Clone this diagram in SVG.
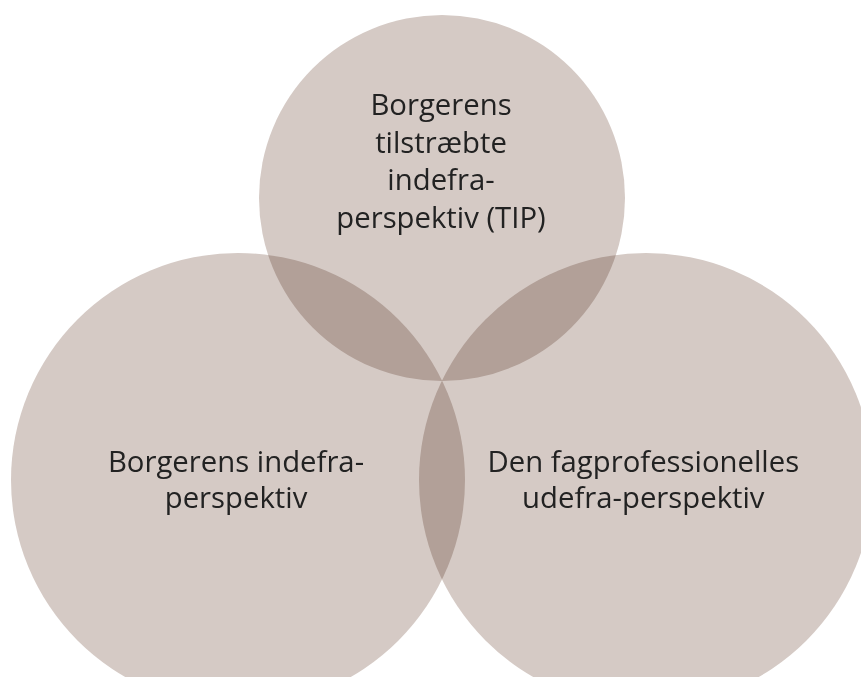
<svg xmlns="http://www.w3.org/2000/svg" width="861" height="677" viewBox="0 0 861 677">
  <style>
    .disc { fill: #d5cac5; mix-blend-mode: multiply; }
    .label { font-family: "Open Sans", "Noto Sans", "Liberation Sans", sans-serif; font-size: 29.3px; fill: #222222; text-anchor: middle; }
  </style>
  <rect width="861" height="677" fill="#ffffff"/>
  <g id="circles" style="isolation: isolate">
    <g id="node-tip">
      <circle class="disc" cx="442" cy="198" r="183"/>
    </g>
    <g id="node-indefra">
      <circle class="disc" cx="238" cy="480" r="227"/>
    </g>
    <g id="node-udefra">
      <circle class="disc" cx="646" cy="480" r="227"/>
    </g>
  </g>
  <g id="labels">
    <text class="label" x="441" y="115">Borgerens</text>
    <text class="label" x="441" y="152.5">tilstræbte</text>
    <text class="label" x="441" y="190">indefra-</text>
    <text class="label" x="441" y="227.5">perspektiv (TIP)</text>
    <text class="label" x="236" y="471.7">Borgerens indefra-</text>
    <text class="label" x="236" y="508.3">perspektiv</text>
    <text class="label" x="643.3" y="471.7">Den fagprofessionelles</text>
    <text class="label" x="643.3" y="508.3">udefra-perspektiv</text>
  </g>
  <g id="connectors"/>
</svg>
